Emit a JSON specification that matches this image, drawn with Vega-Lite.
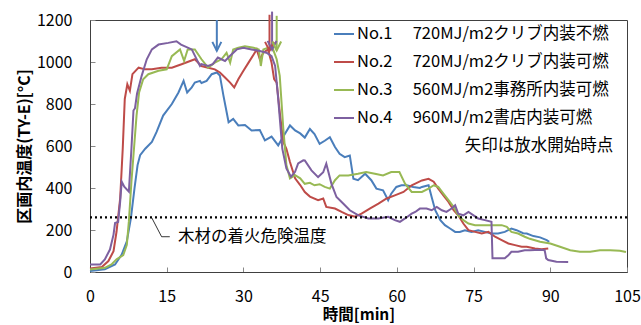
{
  "$schema": "https://vega.github.io/schema/vega-lite/v6.json",
  "width": 537,
  "height": 252,
  "autosize": {"type": "none"},
  "padding": {"left": 90, "top": 20, "right": 14, "bottom": 53},
  "background": "white",
  "config": {
    "font": "Noto Sans CJK JP",
    "view": {"stroke": "#404040", "strokeWidth": 1},
    "axis": {"grid": false, "domainColor": "#404040", "tickColor": "#888888", "labelColor": "#000000", "titleColor": "#000000", "labelFontSize": 16, "titleFontSize": 16, "titleFontWeight": "bold", "labelFont": "Noto Sans CJK JP", "titleFont": "Noto Sans CJK JP"}
  },
  "datasets": {
    "curves": [
      {"s":"No.1","t":0,"T":5},{"s":"No.1","t":2.9,"T":13},{"s":"No.1","t":4.9,"T":36},{"s":"No.1","t":6.2,"T":83},{"s":"No.1","t":7.2,"T":146},{"s":"No.1","t":8.0,"T":257},{"s":"No.1","t":8.7,"T":398},{"s":"No.1","t":9.3,"T":509},{"s":"No.1","t":9.8,"T":556},{"s":"No.1","t":10.8,"T":587},{"s":"No.1","t":12.1,"T":619},{"s":"No.1","t":13.0,"T":666},{"s":"No.1","t":14.3,"T":745},{"s":"No.1","t":16.0,"T":800},{"s":"No.1","t":17.3,"T":855},{"s":"No.1","t":18.3,"T":910},{"s":"No.1","t":19.0,"T":855},{"s":"No.1","t":19.9,"T":879},{"s":"No.1","t":20.5,"T":902},{"s":"No.1","t":21.5,"T":910},{"s":"No.1","t":21.8,"T":900},{"s":"No.1","t":22.8,"T":910},{"s":"No.1","t":23.8,"T":942},{"s":"No.1","t":24.8,"T":950},{"s":"No.1","t":25.4,"T":935},{"s":"No.1","t":26.1,"T":839},{"s":"No.1","t":27.1,"T":713},{"s":"No.1","t":28.0,"T":729},{"s":"No.1","t":29.0,"T":698},{"s":"No.1","t":30.3,"T":700},{"s":"No.1","t":31.6,"T":674},{"s":"No.1","t":33.2,"T":676},{"s":"No.1","t":34.2,"T":627},{"s":"No.1","t":35.5,"T":645},{"s":"No.1","t":36.8,"T":603},{"s":"No.1","t":37.8,"T":645},{"s":"No.1","t":39.1,"T":698},{"s":"No.1","t":40.1,"T":674},{"s":"No.1","t":41.1,"T":660},{"s":"No.1","t":42.0,"T":640},{"s":"No.1","t":43.0,"T":681},{"s":"No.1","t":43.9,"T":657},{"s":"No.1","t":44.9,"T":610},{"s":"No.1","t":45.9,"T":625},{"s":"No.1","t":46.9,"T":642},{"s":"No.1","t":47.9,"T":595},{"s":"No.1","t":48.8,"T":563},{"s":"No.1","t":49.8,"T":547},{"s":"No.1","t":50.8,"T":555},{"s":"No.1","t":51.5,"T":444},{"s":"No.1","t":52.4,"T":437},{"s":"No.1","t":53.8,"T":468},{"s":"No.1","t":55.0,"T":437},{"s":"No.1","t":56.0,"T":397},{"s":"No.1","t":57.3,"T":389},{"s":"No.1","t":58.3,"T":342},{"s":"No.1","t":58.9,"T":373},{"s":"No.1","t":59.9,"T":405},{"s":"No.1","t":60.9,"T":413},{"s":"No.1","t":61.9,"T":413},{"s":"No.1","t":63.2,"T":405},{"s":"No.1","t":64.5,"T":400},{"s":"No.1","t":64.9,"T":405},{"s":"No.1","t":66.2,"T":413},{"s":"No.1","t":66.8,"T":357},{"s":"No.1","t":67.5,"T":294},{"s":"No.1","t":68.5,"T":247},{"s":"No.1","t":69.4,"T":223},{"s":"No.1","t":70.4,"T":207},{"s":"No.1","t":71.4,"T":191},{"s":"No.1","t":72.3,"T":191},{"s":"No.1","t":73.3,"T":199},{"s":"No.1","t":74.6,"T":191},{"s":"No.1","t":75.9,"T":199},{"s":"No.1","t":77.2,"T":191},{"s":"No.1","t":78.5,"T":183},{"s":"No.1","t":79.8,"T":183},{"s":"No.1","t":81.1,"T":191},{"s":"No.1","t":82.4,"T":207},{"s":"No.1","t":83.4,"T":199},{"s":"No.1","t":84.7,"T":185},{"s":"No.1","t":85.4,"T":183},{"s":"No.1","t":86.7,"T":171},{"s":"No.1","t":88.0,"T":165},{"s":"No.1","t":89.3,"T":152},{"s":"No.1","t":89.8,"T":144},
      {"s":"No.2","t":0,"T":17},{"s":"No.2","t":2.3,"T":24},{"s":"No.2","t":3.6,"T":52},{"s":"No.2","t":4.6,"T":99},{"s":"No.2","t":5.2,"T":194},{"s":"No.2","t":5.9,"T":351},{"s":"No.2","t":6.4,"T":587},{"s":"No.2","t":6.8,"T":824},{"s":"No.2","t":7.3,"T":894},{"s":"No.2","t":7.8,"T":863},{"s":"No.2","t":8.3,"T":942},{"s":"No.2","t":9.5,"T":973},{"s":"No.2","t":10.8,"T":965},{"s":"No.2","t":12.1,"T":965},{"s":"No.2","t":14.0,"T":973},{"s":"No.2","t":16.0,"T":973},{"s":"No.2","t":17.9,"T":989},{"s":"No.2","t":20.5,"T":1013},{"s":"No.2","t":21.8,"T":981},{"s":"No.2","t":23.1,"T":973},{"s":"No.2","t":24.4,"T":965},{"s":"No.2","t":25.4,"T":950},{"s":"No.2","t":26.4,"T":926},{"s":"No.2","t":27.4,"T":902},{"s":"No.2","t":28.2,"T":879},{"s":"No.2","t":29.0,"T":918},{"s":"No.2","t":30.0,"T":958},{"s":"No.2","t":31.0,"T":997},{"s":"No.2","t":32.0,"T":1036},{"s":"No.2","t":32.6,"T":1060},{"s":"No.2","t":33.2,"T":1013},{"s":"No.2","t":33.9,"T":1044},{"s":"No.2","t":34.8,"T":1060},{"s":"No.2","t":35.5,"T":997},{"s":"No.2","t":36.0,"T":918},{"s":"No.2","t":36.5,"T":902},{"s":"No.2","t":37.1,"T":761},{"s":"No.2","t":37.8,"T":619},{"s":"No.2","t":38.4,"T":587},{"s":"No.2","t":39.1,"T":524},{"s":"No.2","t":40.1,"T":446},{"s":"No.2","t":41.1,"T":414},{"s":"No.2","t":42.0,"T":381},{"s":"No.2","t":43.0,"T":359},{"s":"No.2","t":44.6,"T":342},{"s":"No.2","t":45.6,"T":350},{"s":"No.2","t":46.2,"T":310},{"s":"No.2","t":47.9,"T":302},{"s":"No.2","t":49.2,"T":286},{"s":"No.2","t":50.5,"T":271},{"s":"No.2","t":51.8,"T":263},{"s":"No.2","t":53.1,"T":278},{"s":"No.2","t":54.7,"T":302},{"s":"No.2","t":56.4,"T":326},{"s":"No.2","t":58.0,"T":350},{"s":"No.2","t":59.6,"T":365},{"s":"No.2","t":61.3,"T":381},{"s":"No.2","t":62.9,"T":413},{"s":"No.2","t":63.6,"T":421},{"s":"No.2","t":64.9,"T":436},{"s":"No.2","t":66.2,"T":444},{"s":"No.2","t":67.2,"T":430},{"s":"No.2","t":68.1,"T":397},{"s":"No.2","t":69.1,"T":365},{"s":"No.2","t":70.1,"T":334},{"s":"No.2","t":71.1,"T":294},{"s":"No.2","t":72.0,"T":270},{"s":"No.2","t":73.0,"T":231},{"s":"No.2","t":74.0,"T":199},{"s":"No.2","t":75.3,"T":191},{"s":"No.2","t":76.6,"T":183},{"s":"No.2","t":77.9,"T":191},{"s":"No.2","t":79.2,"T":168},{"s":"No.2","t":80.5,"T":152},{"s":"No.2","t":81.8,"T":136},{"s":"No.2","t":83.1,"T":128},{"s":"No.2","t":84.4,"T":120},{"s":"No.2","t":85.4,"T":120},{"s":"No.2","t":87.0,"T":112},{"s":"No.2","t":88.3,"T":108},{"s":"No.2","t":89.6,"T":112},
      {"s":"No.3","t":0,"T":12},{"s":"No.3","t":2.9,"T":20},{"s":"No.3","t":4.2,"T":36},{"s":"No.3","t":5.2,"T":60},{"s":"No.3","t":6.5,"T":80},{"s":"No.3","t":7.2,"T":130},{"s":"No.3","t":7.6,"T":241},{"s":"No.3","t":8.1,"T":430},{"s":"No.3","t":8.7,"T":619},{"s":"No.3","t":9.1,"T":745},{"s":"No.3","t":9.6,"T":855},{"s":"No.3","t":10.4,"T":918},{"s":"No.3","t":11.4,"T":942},{"s":"No.3","t":13.4,"T":958},{"s":"No.3","t":15.0,"T":965},{"s":"No.3","t":16.0,"T":1028},{"s":"No.3","t":17.6,"T":1060},{"s":"No.3","t":18.4,"T":1005},{"s":"No.3","t":19.1,"T":1060},{"s":"No.3","t":20.5,"T":1060},{"s":"No.3","t":21.8,"T":1013},{"s":"No.3","t":23.1,"T":973},{"s":"No.3","t":24.4,"T":997},{"s":"No.3","t":25.7,"T":1013},{"s":"No.3","t":26.7,"T":1044},{"s":"No.3","t":27.4,"T":997},{"s":"No.3","t":28.0,"T":1060},{"s":"No.3","t":29.0,"T":1068},{"s":"No.3","t":30.3,"T":1075},{"s":"No.3","t":32.0,"T":1068},{"s":"No.3","t":33.0,"T":1060},{"s":"No.3","t":33.4,"T":981},{"s":"No.3","t":33.9,"T":1060},{"s":"No.3","t":34.8,"T":1068},{"s":"No.3","t":35.8,"T":1060},{"s":"No.3","t":36.5,"T":1013},{"s":"No.3","t":37.1,"T":934},{"s":"No.3","t":37.8,"T":682},{"s":"No.3","t":38.4,"T":509},{"s":"No.3","t":39.1,"T":446},{"s":"No.3","t":40.1,"T":461},{"s":"No.3","t":41.1,"T":446},{"s":"No.3","t":42.0,"T":420},{"s":"No.3","t":43.0,"T":425},{"s":"No.3","t":43.9,"T":413},{"s":"No.3","t":44.9,"T":418},{"s":"No.3","t":45.9,"T":405},{"s":"No.3","t":46.9,"T":397},{"s":"No.3","t":47.9,"T":437},{"s":"No.3","t":48.8,"T":460},{"s":"No.3","t":50.5,"T":460},{"s":"No.3","t":52.4,"T":468},{"s":"No.3","t":54.0,"T":476},{"s":"No.3","t":55.7,"T":468},{"s":"No.3","t":57.3,"T":460},{"s":"No.3","t":58.9,"T":476},{"s":"No.3","t":60.5,"T":476},{"s":"No.3","t":61.6,"T":421},{"s":"No.3","t":62.9,"T":381},{"s":"No.3","t":64.9,"T":381},{"s":"No.3","t":66.2,"T":397},{"s":"No.3","t":67.2,"T":413},{"s":"No.3","t":68.1,"T":405},{"s":"No.3","t":69.1,"T":373},{"s":"No.3","t":70.1,"T":342},{"s":"No.3","t":71.1,"T":310},{"s":"No.3","t":72.0,"T":270},{"s":"No.3","t":73.0,"T":247},{"s":"No.3","t":74.0,"T":231},{"s":"No.3","t":75.3,"T":223},{"s":"No.3","t":77.9,"T":223},{"s":"No.3","t":80.5,"T":223},{"s":"No.3","t":81.5,"T":215},{"s":"No.3","t":82.4,"T":191},{"s":"No.3","t":83.7,"T":183},{"s":"No.3","t":85.0,"T":168},{"s":"No.3","t":86.0,"T":158},{"s":"No.3","t":88.0,"T":144},{"s":"No.3","t":90.0,"T":136},{"s":"No.3","t":91.9,"T":120},{"s":"No.3","t":93.9,"T":104},{"s":"No.3","t":95.8,"T":97},{"s":"No.3","t":97.8,"T":97},{"s":"No.3","t":99.7,"T":104},{"s":"No.3","t":101.7,"T":104},{"s":"No.3","t":103.6,"T":101},{"s":"No.3","t":104.8,"T":95},
      {"s":"No.4","t":0,"T":36},{"s":"No.4","t":2.0,"T":36},{"s":"No.4","t":2.9,"T":60},{"s":"No.4","t":3.9,"T":107},{"s":"No.4","t":4.6,"T":178},{"s":"No.4","t":4.9,"T":233},{"s":"No.4","t":5.5,"T":238},{"s":"No.4","t":5.9,"T":335},{"s":"No.4","t":6.2,"T":430},{"s":"No.4","t":6.7,"T":406},{"s":"No.4","t":7.6,"T":383},{"s":"No.4","t":8.1,"T":587},{"s":"No.4","t":8.5,"T":769},{"s":"No.4","t":8.8,"T":780},{"s":"No.4","t":9.2,"T":850},{"s":"No.4","t":10.1,"T":934},{"s":"No.4","t":11.1,"T":1013},{"s":"No.4","t":12.1,"T":1060},{"s":"No.4","t":13.4,"T":1083},{"s":"No.4","t":15.3,"T":1091},{"s":"No.4","t":16.9,"T":1099},{"s":"No.4","t":17.8,"T":1083},{"s":"No.4","t":19.9,"T":1060},{"s":"No.4","t":21.5,"T":981},{"s":"No.4","t":21.8,"T":990},{"s":"No.4","t":23.1,"T":981},{"s":"No.4","t":24.0,"T":990},{"s":"No.4","t":25.0,"T":1021},{"s":"No.4","t":26.4,"T":1005},{"s":"No.4","t":27.4,"T":1030},{"s":"No.4","t":28.7,"T":1060},{"s":"No.4","t":30.0,"T":1068},{"s":"No.4","t":31.6,"T":1060},{"s":"No.4","t":33.2,"T":1052},{"s":"No.4","t":34.5,"T":1044},{"s":"No.4","t":35.5,"T":1028},{"s":"No.4","t":36.2,"T":981},{"s":"No.4","t":36.8,"T":824},{"s":"No.4","t":37.6,"T":587},{"s":"No.4","t":38.4,"T":493},{"s":"No.4","t":39.3,"T":454},{"s":"No.4","t":40.1,"T":477},{"s":"No.4","t":40.7,"T":517},{"s":"No.4","t":41.7,"T":532},{"s":"No.4","t":42.0,"T":531},{"s":"No.4","t":43.3,"T":484},{"s":"No.4","t":44.6,"T":452},{"s":"No.4","t":45.6,"T":475},{"s":"No.4","t":46.2,"T":516},{"s":"No.4","t":47.2,"T":421},{"s":"No.4","t":48.2,"T":357},{"s":"No.4","t":49.5,"T":326},{"s":"No.4","t":50.8,"T":294},{"s":"No.4","t":52.4,"T":271},{"s":"No.4","t":54.4,"T":255},{"s":"No.4","t":56.4,"T":255},{"s":"No.4","t":58.3,"T":263},{"s":"No.4","t":59.6,"T":247},{"s":"No.4","t":60.6,"T":239},{"s":"No.4","t":61.6,"T":255},{"s":"No.4","t":62.9,"T":278},{"s":"No.4","t":63.6,"T":286},{"s":"No.4","t":64.5,"T":302},{"s":"No.4","t":65.8,"T":302},{"s":"No.4","t":66.8,"T":294},{"s":"No.4","t":67.8,"T":310},{"s":"No.4","t":68.8,"T":294},{"s":"No.4","t":69.7,"T":286},{"s":"No.4","t":70.7,"T":302},{"s":"No.4","t":71.4,"T":318},{"s":"No.4","t":72.0,"T":278},{"s":"No.4","t":73.0,"T":270},{"s":"No.4","t":74.0,"T":286},{"s":"No.4","t":75.0,"T":270},{"s":"No.4","t":75.9,"T":255},{"s":"No.4","t":77.2,"T":247},{"s":"No.4","t":78.5,"T":239},{"s":"No.4","t":78.7,"T":65},{"s":"No.4","t":79.8,"T":65},{"s":"No.4","t":81.1,"T":65},{"s":"No.4","t":81.8,"T":80},{"s":"No.4","t":82.4,"T":96},{"s":"No.4","t":83.7,"T":96},{"s":"No.4","t":85.0,"T":104},{"s":"No.4","t":86.0,"T":104},{"s":"No.4","t":88.0,"T":106},{"s":"No.4","t":88.9,"T":104},{"s":"No.4","t":89.2,"T":65},{"s":"No.4","t":89.6,"T":57},{"s":"No.4","t":91.2,"T":49},{"s":"No.4","t":93.5,"T":48}
    ],
    "arrows": [
      {"s":"No.1","t":24.8,"top":1200,"tip":1053},
      {"s":"No.2","t":35.1,"top":1225,"tip":1053},
      {"s":"No.4","t":35.6,"top":1240,"tip":1058},
      {"s":"No.3","t":36.5,"top":1220,"tip":1055}
    ],
    "leader": [
      {"t":12.1,"T":257},{"t":14.0,"T":168},{"t":15.6,"T":168}
    ]
  },
  "layer": [
    {
      "data": {"name": "curves"},
      "mark": {"type": "line", "strokeWidth": 2, "interpolate": "linear"},
      "encoding": {
        "x": {"field": "t", "type": "quantitative", "scale": {"domain": [0, 105], "nice": false},
              "axis": {"values": [0,15,30,45,60,75,90,105], "title": "時間[min]", "tickSize": -5, "labelPadding": 21, "titlePadding": 3, "titleFontSize": 15.5, "labelFlush": false}},
        "y": {"field": "T", "type": "quantitative", "scale": {"domain": [0, 1200], "nice": false},
              "axis": {"values": [0,200,400,600,800,1000,1200], "format": "d", "title": "区画内温度(TY-E)[°C]", "tickSize": -5, "labelPadding": 23, "titlePadding": 4}},
        "color": {"field": "s", "type": "nominal",
                  "scale": {"domain": ["No.1","No.2","No.3","No.4"], "range": ["#4A7EBB","#BE4B48","#98B954","#7D60A0"]},
                  "legend": {"orient": "none", "legendX": 243, "legendY": 3, "title": null, "symbolType": "stroke", "symbolSize": 400, "symbolStrokeWidth": 2, "labelFontSize": 16.5, "labelFont": "Noto Sans CJK JP", "labelColor": "#000000", "rowPadding": 8, "labelOffset": 2, "padding": 0,
                             "labelExpr": "datum.label == 'No.1' ? 'No.1　 720MJ/m2クリブ内装不燃' : datum.label == 'No.2' ? 'No.2　 720MJ/m2クリブ内装可燃' : datum.label == 'No.3' ? 'No.3　 560MJ/m2事務所内装可燃' : 'No.4　 960MJ/m2書店内装可燃'", "labelLimit": 400}}
      }
    },
    {
      "data": {"values": [{"T": 260}]},
      "mark": {"type": "rule", "color": "#000000", "strokeWidth": 2.2, "strokeDash": [2, 3]},
      "encoding": {"y": {"field": "T", "type": "quantitative"}}
    },
    {
      "data": {"name": "leader"},
      "mark": {"type": "line", "color": "#000000", "strokeWidth": 0.8},
      "encoding": {"x": {"field": "t", "type": "quantitative"}, "y": {"field": "T", "type": "quantitative"}}
    },
    {
      "data": {"values": [{"t": 17.2, "T": 168, "label": "木材の着火危険温度"}]},
      "mark": {"type": "text", "align": "left", "baseline": "middle", "fontSize": 16.5, "font": "Noto Sans CJK JP", "color": "#000000"},
      "encoding": {"x": {"field": "t", "type": "quantitative"}, "y": {"field": "T", "type": "quantitative"}, "text": {"field": "label"}}
    },
    {
      "data": {"values": [{"t": 102.3, "T": 600, "label": "矢印は放水開始時点"}]},
      "mark": {"type": "text", "align": "right", "baseline": "middle", "fontSize": 16.5, "font": "Noto Sans CJK JP", "color": "#000000"},
      "encoding": {"x": {"field": "t", "type": "quantitative"}, "y": {"field": "T", "type": "quantitative"}, "text": {"field": "label"}}
    },
    {
      "data": {"name": "arrows"},
      "mark": {"type": "rule", "strokeWidth": 2},
      "encoding": {"x": {"field": "t", "type": "quantitative"}, "y": {"field": "top", "type": "quantitative"}, "y2": {"field": "tip"}, "color": {"field": "s", "type": "nominal"}}
    },
    {
      "data": {"name": "arrows"},
      "mark": {"type": "point", "shape": "M-1,-2L0,0L1,-2", "filled": false, "strokeWidth": 2, "size": 80, "opacity": 1},
      "encoding": {"x": {"field": "t", "type": "quantitative"}, "y": {"field": "tip", "type": "quantitative"}, "color": {"field": "s", "type": "nominal"}}
    }
  ]
}
